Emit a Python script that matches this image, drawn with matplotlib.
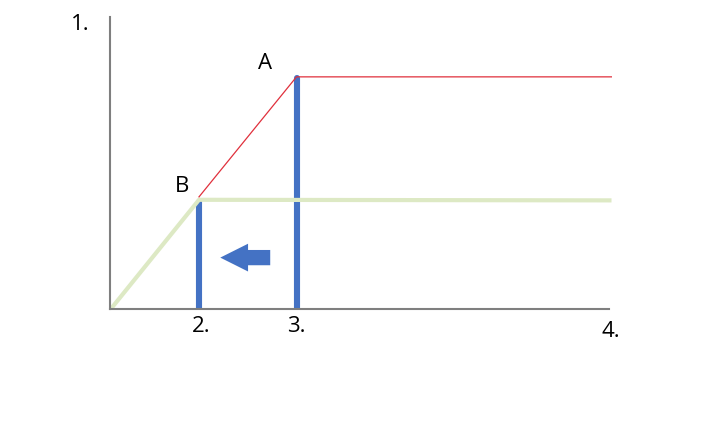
import matplotlib.pyplot as plt

# schematic values (axis units: x 0..100, y 0..100)
green_x = [0.3, 17.8, 100.3]
green_y = [0.3, 37.4, 37.2]
red_x = [17.8, 37.3, 100.3]
red_y = [38.4, 79.5, 79.5]
bar_x = [17.7, 37.3]
bar_top = [36.5, 79.2]
arrow_from = (32.6, 17.6)
arrow_to = (21.5, 17.6)
point_labels = ['A', 'B']
point_xy = [(31.0, 80.5), (14.4, 38.5)]
axis_labels = ['1.', '2.', '3.', '4.']

plt.rcParams['font.family'] = ['Open Sans', 'DejaVu Sans']

fig = plt.figure(figsize=(7.2, 4.38), dpi=100)
ax = fig.add_axes([110 / 720, (438 - 309) / 438, 502 / 720, 292 / 438])
ax.set_xlim(0, 100.4)
ax.set_ylim(0, 100)

ax.plot(green_x, green_y, color='#dde9c4', lw=3, solid_capstyle='butt', zorder=2)
ax.plot(red_x, red_y, color='#e0303c', lw=0.9, zorder=3)
for x, top in zip(bar_x, bar_top):
    ax.plot([x, x], [0, top], color='#4472c4', lw=4.4, solid_capstyle='round', zorder=1)

ax.annotate('', xy=arrow_to, xytext=arrow_from,
            arrowprops=dict(arrowstyle='simple,head_length=1.0,head_width=1.0,tail_width=0.55',
                            color='#4472c4', lw=0, mutation_scale=20))

for lab, (x, y) in zip(point_labels, point_xy):
    ax.text(x, y, lab, fontsize=16, ha='center', va='bottom')

for s in ['top', 'right']:
    ax.spines[s].set_visible(False)
for s in ['left', 'bottom']:
    ax.spines[s].set_color('#7f7f7f')
    ax.spines[s].set_linewidth(1.5)
ax.spines['bottom'].set_bounds(0, 99.8)
ax.set_xticks([])
ax.set_yticks([])

fig.text(80 / 720, 1 - 25 / 438, axis_labels[0], fontsize=16, ha='center', va='center')
ax.text(bar_x[0] + 0.6, -6, axis_labels[1], fontsize=16, ha='center', va='center')
ax.text(bar_x[1], -6, axis_labels[2], fontsize=16, ha='center', va='center')
ax.text(100.2, -7.6, axis_labels[3], fontsize=16, ha='center', va='center')

fig.savefig('out.png', dpi=100)
